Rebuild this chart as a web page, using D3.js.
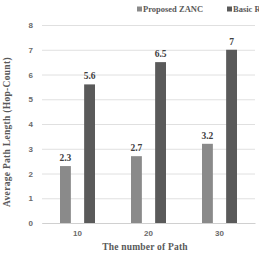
<!DOCTYPE html>
<html>
<head>
<meta charset="utf-8">
<script src="https://cdn.jsdelivr.net/npm/d3@7"></script>
<style>
  body { margin: 0; background: #fff; overflow: hidden; }
  svg { display: block; font-family: "Liberation Serif", "Times New Roman", serif; }
</style>
</head>
<body>
<div class="chart"></div>
<script>
// data
const categories = ['10', '20', '30'];
const seriesNames = ['Proposed ZANC', 'Basic R'];
const proposed = [2.3, 2.7, 3.2];
const basic = [5.6, 6.5, 7];
const yTicks = [0, 1, 2, 3, 4, 5, 6, 7, 8];
const colors = ['#8a8a8a', '#5a5a5a'];

const W = 259, H = 257;
const margin = { top: 25, right: 4, bottom: 34, left: 42 };
const width = W - margin.left - margin.right;
const height = H - margin.top - margin.bottom;

const rows = categories.map((c, i) => ({ cat: c, values: [proposed[i], basic[i]] }));

const x0 = d3.scaleBand().domain(categories).range([0, width]);
const x1 = d3.scaleBand().domain(seriesNames).range([18, x0.bandwidth() - 18]).paddingInner(0.55);
const y = d3.scaleLinear().domain([0, 8]).range([height, 0]);

const svg = d3.select('.chart').append('svg')
  .attr('width', W).attr('height', H);
const g = svg.append('g').attr('transform', `translate(${margin.left},${margin.top})`);

// gridlines
const yAxis = d3.axisLeft(y).tickValues(yTicks).tickSize(-width).tickFormat(d3.format('d'));
const yAxisDraw = g.append('g').call(yAxis);
yAxisDraw.select('.domain').remove();
yAxisDraw.selectAll('line').attr('stroke', '#e0e0e0');
yAxisDraw.selectAll('text').attr('x', -9).attr('fill', '#6a6a6a')
  .style('font-size', '8px').style('font-weight', 'bold');

// bars
const groups = g.selectAll('.grp').data(rows).enter().append('g')
  .attr('transform', d => `translate(${x0(d.cat)},0)`);

groups.selectAll('rect')
  .data(d => d.values.map((v, i) => ({ key: seriesNames[i], v, i })))
  .enter().append('rect')
  .attr('x', d => x1(d.key))
  .attr('y', d => y(d.v))
  .attr('width', x1.bandwidth())
  .attr('height', d => height - y(d.v))
  .attr('fill', d => colors[d.i]);

groups.selectAll('.lbl')
  .data(d => d.values.map((v, i) => ({ key: seriesNames[i], v })))
  .enter().append('text')
  .attr('x', d => x1(d.key) + x1.bandwidth() / 2)
  .attr('y', d => y(d.v) - 5)
  .attr('text-anchor', 'middle')
  .attr('fill', '#404040')
  .style('font-size', '9.5px').style('font-weight', 'bold')
  .text(d => d.v);

// x axis
const xAxis = d3.axisBottom(x0).tickSize(0);
const xAxisDraw = g.append('g').attr('transform', `translate(0,${height})`).call(xAxis);
xAxisDraw.select('.domain').attr('stroke', '#d0d0d0');
xAxisDraw.selectAll('text').attr('dy', '1.2em').attr('fill', '#6a6a6a')
  .style('font-size', '8px').style('font-weight', 'bold');

// axis titles
svg.append('text')
  .attr('x', 145).attr('y', 250)
  .attr('text-anchor', 'middle').attr('fill', '#595959')
  .style('font-size', '9.5px').style('font-weight', 'bold')
  .style('letter-spacing', '0.2px')
  .text('The number  of Path');

svg.append('text')
  .attr('transform', 'translate(10,132) rotate(-90)')
  .attr('text-anchor', 'middle').attr('fill', '#595959')
  .style('font-size', '9.5px').style('font-weight', 'bold')
  .style('letter-spacing', '0.3px')
  .text('Average Path Length (Hop-Count)');

// legend (second entry runs off the right edge, as in the original)
const legend = svg.append('g').attr('transform', 'translate(137,12)');
const legX = [0, 90];
seriesNames.forEach((s, i) => {
  legend.append('rect').attr('x', legX[i]).attr('y', -5.5).attr('width', 5).attr('height', 5)
    .attr('fill', colors[i]);
  legend.append('text').attr('x', legX[i] + 6).attr('y', 0)
    .attr('fill', '#595959').style('font-size', '8.5px').style('font-weight', 'bold')
    .text(s);
});
</script>
</body>
</html>
